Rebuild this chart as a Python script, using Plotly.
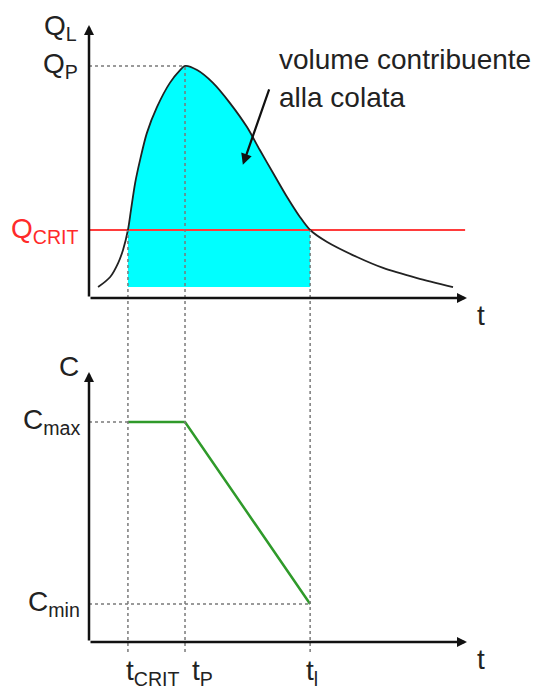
import plotly.graph_objects as go

# tempi caratteristici (unità arbitrarie)
t_crit = 1.03
t_p = 2.54
t_l = 5.85

# idrogramma liquido Q_L(t)
t_idro = [0.24, 0.56, 0.77, 0.90, 1.03, 1.11, 1.22, 1.35, 1.53, 1.80, 2.14, 2.41, 2.54,
          2.86, 3.28, 3.73, 4.18, 4.52, 4.87, 5.24, 5.58, 5.85, 6.30, 7.09, 7.78, 8.68, 9.63]
q_idro = [0.40, 0.77, 1.28, 1.76, 2.49, 3.22, 4.21, 5.05, 6.04, 7.00, 7.88, 8.35, 8.50,
          8.35, 7.88, 7.14, 6.26, 5.42, 4.58, 3.70, 2.97, 2.49, 2.05, 1.50, 1.10, 0.73, 0.40]
q_p = 8.50
q_crit = 2.49
q_base = 0.40

# concentrazione C(t)
t_conc = [t_crit, t_p, t_l]
c_conc = [8.15, 8.15, 1.41]
c_max = 8.15
c_min = 1.41

x_max = 10
y_max = 10

FONT = 'Liberation Sans, Arial, sans-serif'
FS = 28
DOT = '#7a7a7a'

# la pagina html ha un margine di 8 px
OX, OY = 8, 8
W, H = 557 - OX, 693 - OY


def px_x(p):
    return (p - OX) / W


def px_y(p):
    return 1 - (p - OY) / H


xdom = [px_x(89), px_x(467)]
ydom_top = [px_y(298), px_y(25)]
ydom_bot = [px_y(642), px_y(372)]


def to_paper(v, dom):
    return dom[0] + v / y_max * (dom[1] - dom[0])


fig = go.Figure()

# area del volume contribuente (tra t_crit e t_l)
seg = [i for i, t in enumerate(t_idro) if t_crit <= t <= t_l]
fig.add_trace(go.Scatter(x=[t_crit, t_l], y=[q_base, q_base], mode='lines',
                         line=dict(width=0, color='#00ffff'), hoverinfo='skip'))
fig.add_trace(go.Scatter(x=[t_idro[i] for i in seg], y=[q_idro[i] for i in seg],
                         mode='lines', line=dict(width=0, color='#00ffff', shape='spline'),
                         fill='tonexty', fillcolor='#00ffff', hoverinfo='skip'))

# soglia critica
fig.add_trace(go.Scatter(x=[0, 9.95], y=[q_crit, q_crit], mode='lines',
                         line=dict(color='#ff3b3b', width=2), hoverinfo='skip'))

# linee tratteggiate
fig.add_trace(go.Scatter(x=[0, t_p], y=[q_p, q_p], mode='lines',
                         line=dict(color=DOT, width=1.5, dash='dot'), hoverinfo='skip'))
fig.add_trace(go.Scatter(x=[0, t_crit], y=[c_max, c_max], mode='lines', xaxis='x2', yaxis='y2',
                         line=dict(color=DOT, width=1.5, dash='dot'), hoverinfo='skip'))
fig.add_trace(go.Scatter(x=[0, t_l], y=[c_min, c_min], mode='lines', xaxis='x2', yaxis='y2',
                         line=dict(color=DOT, width=1.5, dash='dot'), hoverinfo='skip'))
for t, q in [(t_crit, q_crit), (t_p, q_p), (t_l, q_crit)]:
    fig.add_shape(type='line', xref='x', yref='paper', x0=t, x1=t,
                  y0=px_y(652), y1=to_paper(q, ydom_top),
                  line=dict(color=DOT, width=1.5, dash='dot'))

# idrogramma
fig.add_trace(go.Scatter(x=t_idro, y=q_idro, mode='lines',
                         line=dict(color='#222222', width=1.8, shape='spline', smoothing=0.8),
                         hoverinfo='skip'))

# concentrazione
fig.add_trace(go.Scatter(x=t_conc, y=c_conc, mode='lines', xaxis='x2', yaxis='y2',
                         line=dict(color='#2f9a2a', width=2.5), hoverinfo='skip'))

ax_style = dict(showgrid=False, zeroline=False, showticklabels=False, showline=False)
fig.update_layout(
    width=W, height=H, margin=dict(l=0, r=0, t=0, b=0),
    paper_bgcolor='white', plot_bgcolor='white', showlegend=False,
    xaxis=dict(domain=xdom, range=[0, x_max], anchor='y', **ax_style),
    yaxis=dict(domain=ydom_top, range=[0, y_max], anchor='x', **ax_style),
    xaxis2=dict(domain=xdom, range=[0, x_max], anchor='y2', **ax_style),
    yaxis2=dict(domain=ydom_bot, range=[0, y_max], anchor='x2', **ax_style),
    font=dict(family=FONT, color='#222222', size=FS),
)

# assi con frecce
for xr, yr in [('x', 'y'), ('x2', 'y2')]:
    for hx, hy in [(x_max, 0), (0, y_max)]:
        fig.add_annotation(x=hx, y=hy, ax=0, ay=0, xref=xr, yref=yr, axref=xr, ayref=yr,
                           text='', showarrow=True, arrowhead=2, arrowsize=0.8,
                           arrowwidth=2.5, arrowcolor='#111111', standoff=0)

# freccia del volume contribuente
fig.add_annotation(x=4.07, y=4.88, ax=4.78, ay=7.70, xref='x', yref='y', axref='x', ayref='y',
                   text='', showarrow=True, arrowhead=2, arrowsize=1,
                   arrowwidth=2.2, arrowcolor='#111111', standoff=0)

labels = [
    dict(x=0, y=y_max, text='Q<sub>L</sub>', xanchor='right', xshift=-10, yshift=-3),
    dict(x=0, y=q_p, text='Q<sub>P</sub>', xanchor='right', xshift=-9),
    dict(x=0, y=q_crit, text='Q<sub>CRIT</sub>', xanchor='right', xshift=-8,
         font=dict(color='#ff2a2a', size=FS, family=FONT)),
    dict(x=4.97, y=8.72, text='volume contribuente', xanchor='left'),
    dict(x=4.97, y=7.36, text='alla colata', xanchor='left'),
    dict(x=x_max, y=0, text='t', xanchor='left', xshift=8, yshift=-18),
]
for a in labels:
    fig.add_annotation(xref='x', yref='y', showarrow=False, yanchor='middle', **a)

labels2 = [
    dict(x=0, y=y_max, text='C', xanchor='right', xshift=-8, yshift=6),
    dict(x=0, y=c_max, text='C<sub>max</sub>', xanchor='right', xshift=-7),
    dict(x=0, y=c_min, text='C<sub>min</sub>', xanchor='right', xshift=-7),
    dict(x=x_max, y=0, text='t', xanchor='left', xshift=8, yshift=-17),
    dict(x=t_crit, y=0, text='t<sub>CRIT</sub>', xanchor='left', xshift=-4, yshift=-30),
    dict(x=t_p, y=0, text='t<sub>P</sub>', xanchor='left', xshift=5, yshift=-30),
    dict(x=t_l, y=0, text='t<sub>l</sub>', xanchor='center', xshift=2, yshift=-30),
]
for a in labels2:
    fig.add_annotation(xref='x2', yref='y2', showarrow=False, yanchor='middle', **a)

fig.write_html('out.html')
